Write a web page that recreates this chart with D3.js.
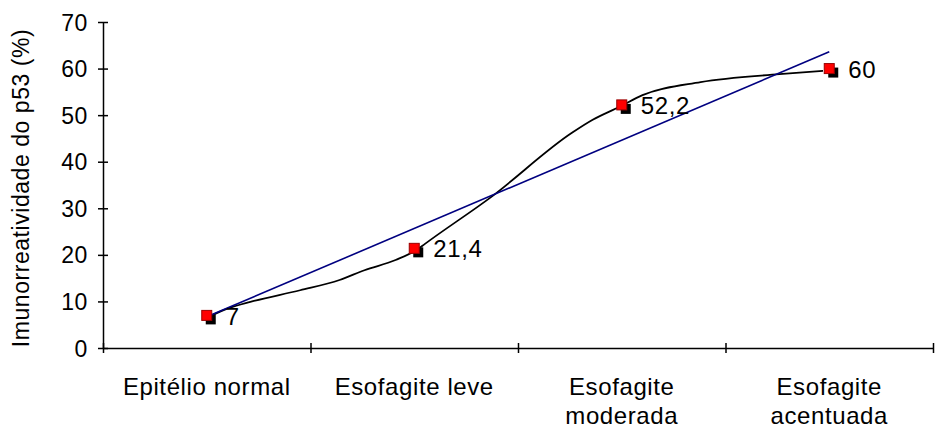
<!DOCTYPE html>
<html>
<head>
<meta charset="utf-8">
<script src="https://cdn.jsdelivr.net/npm/d3@7"></script>
<style>
  body { margin: 0; background: #fff; }
  text { font-family: "Liberation Sans", Arial, sans-serif; fill: #000; }
</style>
</head>
<body>
<div id="chart"></div>
<script>
// categories and values
const categories = [["Epitélio normal"], ["Esofagite leve"], ["Esofagite", "moderada"], ["Esofagite", "acentuada"]];
const values = [7, 21.4, 52.2, 60];
const valueLabels = ["7", "21,4", "52,2", "60"];
const yTicks = [0, 10, 20, 30, 40, 50, 60, 70];

// smooth black line, sampled along its path (x in category units, 1 = first category)
const curveX = [1.02, 1.11, 1.21, 1.45, 1.64, 1.76, 1.91, 2.02, 2.05, 2.37, 2.76, 2.86, 2.99, 3.10, 3.38, 3.76, 3.97];
const curveY = [6.9, 8.6, 9.9, 12.4, 14.6, 16.7, 18.9, 21.3, 22.3, 32.4, 46.2, 49.0, 51.8, 54.3, 57.1, 58.8, 59.5];

// linear trend line (blue), end points
const trendX = [1, 4];
const trendY = [6.7, 63.6];

const W = 935, H = 430;
const plot = { left: 103, right: 933, top: 22, bottom: 348 };

const svg = d3.select("#chart").append("svg")
    .attr("width", W)
    .attr("height", H);

const x = d3.scaleBand().domain(d3.range(categories.length)).range([plot.left, plot.right]);
// continuous x in category units for lines
const xc = d3.scaleLinear().domain([0.5, categories.length + 0.5]).range([plot.left, plot.right]);
const y = d3.scaleLinear().domain([0, 70]).range([plot.bottom, plot.top]);

const fontSize = 24;

// y axis
const yAxis = svg.append("g")
    .attr("transform", `translate(${plot.left},0)`)
    .call(d3.axisLeft(y).tickValues(yTicks).tickSize(5).tickSizeOuter(0));
yAxis.select(".domain").attr("stroke", "#000").attr("stroke-width", 1.5);
yAxis.selectAll(".tick line").attr("x1", -5).attr("x2", 5).attr("stroke", "#000").attr("stroke-width", 1.5);
yAxis.selectAll(".tick text")
    .attr("x", -15)
    .attr("dy", "0.35em")
    .style("font-size", "23px")
    .style("letter-spacing", "0.6px")
    .style("font-family", "'Liberation Sans', Arial, sans-serif");

// x axis, ticks at category boundaries
const xAxis = svg.append("g")
    .attr("transform", `translate(0,${plot.bottom})`)
    .call(d3.axisBottom(xc).tickValues(d3.range(0.5, categories.length + 1, 1)).tickSize(5).tickSizeOuter(0).tickFormat(""));
xAxis.select(".domain").attr("stroke", "#000").attr("stroke-width", 1.5);
xAxis.selectAll(".tick line").attr("y1", -5).attr("y2", 5).attr("stroke", "#000").attr("stroke-width", 1.5);

// category labels
const catLabels = svg.append("g").selectAll("text")
    .data(categories)
    .join("text")
    .attr("x", (d, i) => x(i) + x.bandwidth() / 2)
    .attr("y", 395)
    .attr("text-anchor", "middle")
    .style("font-size", fontSize + "px")
    .style("letter-spacing", "0.6px");
catLabels.selectAll("tspan")
    .data(d => d)
    .join("tspan")
    .attr("x", function () { return this.parentNode.getAttribute("x"); })
    .attr("dy", (d, i) => i === 0 ? 0 : 29)
    .text(d => d);

// y axis title
svg.append("text")
    .attr("transform", `translate(29,${(plot.top + plot.bottom) / 2 + 3}) rotate(-90)`)
    .attr("text-anchor", "middle")
    .style("font-size", "23px")
    .style("letter-spacing", "0.55px")
    .text("Imunorreatividade do p53 (%)");

// black smooth line
const line = d3.line()
    .x(d => xc(d[0]))
    .y(d => y(d[1]))
    .curve(d3.curveMonotoneX);

svg.append("path")
    .datum(d3.zip(curveX, curveY))
    .attr("d", line)
    .attr("fill", "none")
    .attr("stroke", "#000")
    .attr("stroke-width", 1.8);

// black shadow markers
const ms = 10;
svg.append("g").selectAll("rect")
    .data(values)
    .join("rect")
    .attr("x", (d, i) => xc(i + 1) - ms / 2 + 4)
    .attr("y", d => y(d) - ms / 2 + 4)
    .attr("width", ms)
    .attr("height", ms)
    .attr("fill", "#000");

// blue trend line
svg.append("path")
    .datum(d3.zip(trendX, trendY))
    .attr("d", d3.line().x(d => xc(d[0])).y(d => y(d[1])))
    .attr("fill", "none")
    .attr("stroke", "#000080")
    .attr("stroke-width", 1.6);

// red markers
svg.append("g").selectAll("rect")
    .data(values)
    .join("rect")
    .attr("x", (d, i) => xc(i + 1) - ms / 2)
    .attr("y", d => y(d) - ms / 2)
    .attr("width", ms)
    .attr("height", ms)
    .attr("fill", "#ff0000")
    .attr("stroke", "#990000")
    .attr("stroke-width", 1);

// value labels
svg.append("g").selectAll("text")
    .data(values)
    .join("text")
    .attr("x", (d, i) => xc(i + 1) + 19)
    .attr("y", d => y(d))
    .attr("dy", "0.38em")
    .style("font-size", fontSize + "px")
    .style("letter-spacing", "0.6px")
    .text((d, i) => valueLabels[i]);
</script>
</body>
</html>
